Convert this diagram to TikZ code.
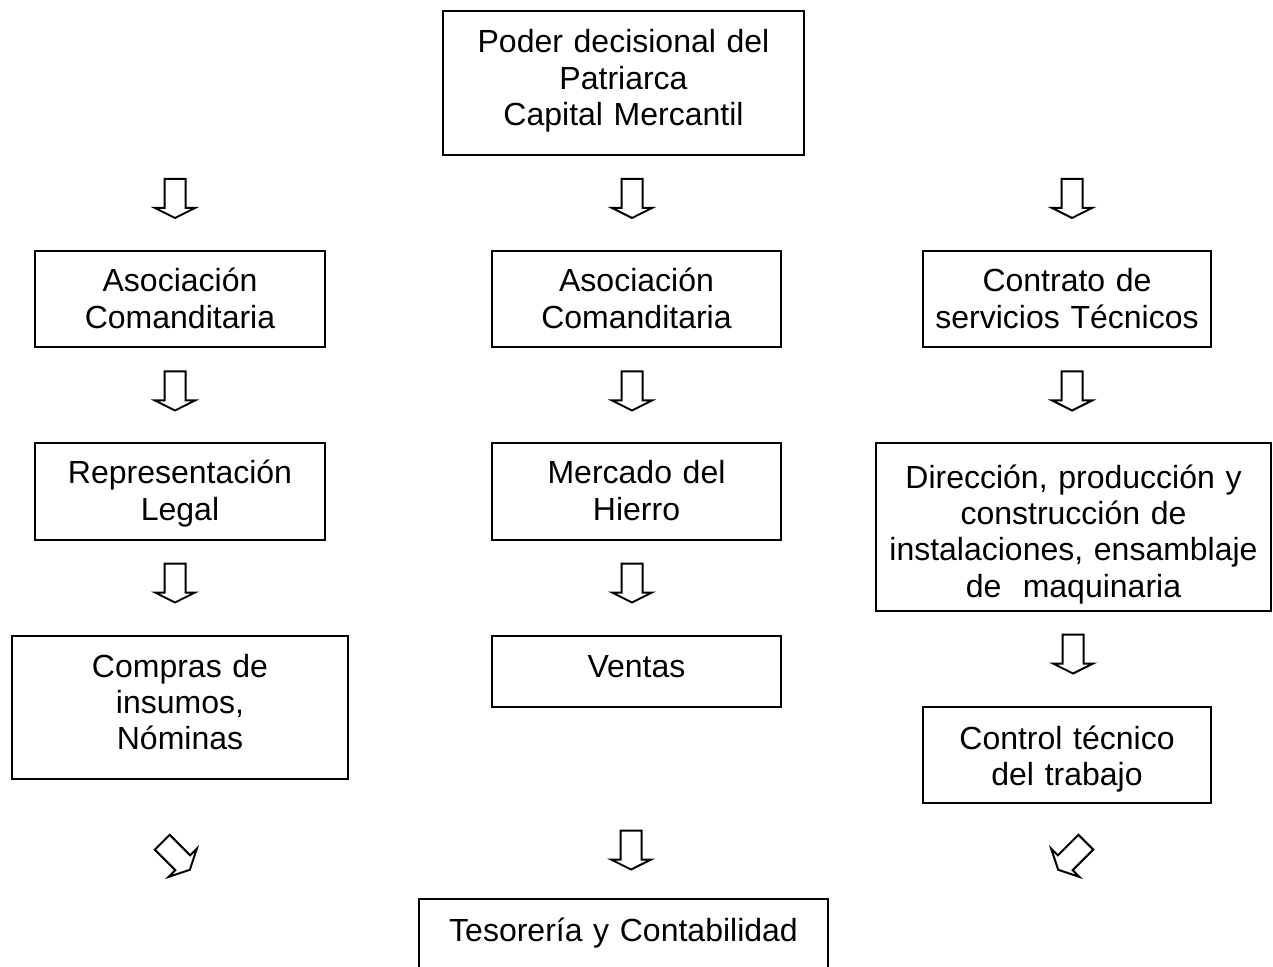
\documentclass[tikz,border=0pt]{standalone}
\usepackage{fontspec}
\setmainfont{Liberation Sans}
\usetikzlibrary{fit}
\tikzset{
  boxframe/.style={draw=black, line width=1pt, inner sep=0pt, outer sep=0pt},
  boxtext/.style={inner sep=0pt, anchor=base, align=center,
    font=\fontsize{16pt}{18.2pt}\selectfont},
  arrowline/.style={draw=black, line width=1pt, fill=white, line join=miter},
  blockarrow/.pic={
    \coordinate (-c) at (0,0);
    \draw[arrowline] (-10.5,-19.5) -- (10.5,-19.5) -- (10.5,9.5) -- (20,9.5)
      -- (0,19.5) -- (-20,9.5) -- (-10.5,9.5) -- cycle;
  }
}
\newcommand\diagbox[7]{%
  \node[boxframe, fit={(#2,#3) (#4,#5)}] (#1) {};
  \pgfmathsetmacro\diagtw{(#4-#2)*0.5}%
  \node[boxtext, text width=\diagtw pt] (#1-t) at ({(#2+#4)/2},{#3+#6}) {#7};
}
\begin{document}
\begin{tikzpicture}[x=0.5pt, y=-0.5pt]
\useasboundingbox (0,0) rectangle (1273,967);

\diagbox{top}{443}{11}{804}{155}{42}{Poder decisional del\\Patriarca\\Capital Mercantil}

\diagbox{al}{35}{251}{325}{347}{41}{Asociación\\Comanditaria}
\diagbox{am}{492}{251}{781}{347}{41}{Asociación\\Comanditaria}
\diagbox{ar}{923}{251}{1211}{347}{41}{Contrato de\\servicios Técnicos}

\diagbox{bl}{35}{443}{325}{540}{41}{Representación\\Legal}
\diagbox{bm}{492}{443}{781}{540}{41}{Mercado del\\Hierro}
\diagbox{br}{876}{443}{1271}{611}{45}{Dirección, producción y\\construcción de\\instalaciones, ensamblaje\\de~ maquinaria}

\diagbox{cl}{12}{636}{348}{779}{41}{Compras de\\insumos,\\Nóminas}
\diagbox{cm}{492}{636}{781}{707}{41}{Ventas}
\diagbox{cr}{923}{707}{1211}{803}{42}{Control técnico\\del trabajo}

\diagbox{bot}{419}{899}{828}{975}{42}{Tesorería y Contabilidad}

% block arrows
\pic (a1) at (175,198.5) {blockarrow};
\pic (a2) at (632,198.5) {blockarrow};
\pic (a3) at (1072,198.5) {blockarrow};

\pic (b1) at (175,391) {blockarrow};
\pic (b2) at (632,391) {blockarrow};
\pic (b3) at (1072,391) {blockarrow};

\pic (c1) at (175,583) {blockarrow};
\pic (c2) at (632,583) {blockarrow};
\pic (c3) at (1073,654) {blockarrow};

\pic[rotate=45] (d1) at (176,856) {blockarrow};
\pic (d2) at (631,850) {blockarrow};
\pic[rotate=-45] (d3) at (1072,856) {blockarrow};
\end{tikzpicture}
\end{document}
